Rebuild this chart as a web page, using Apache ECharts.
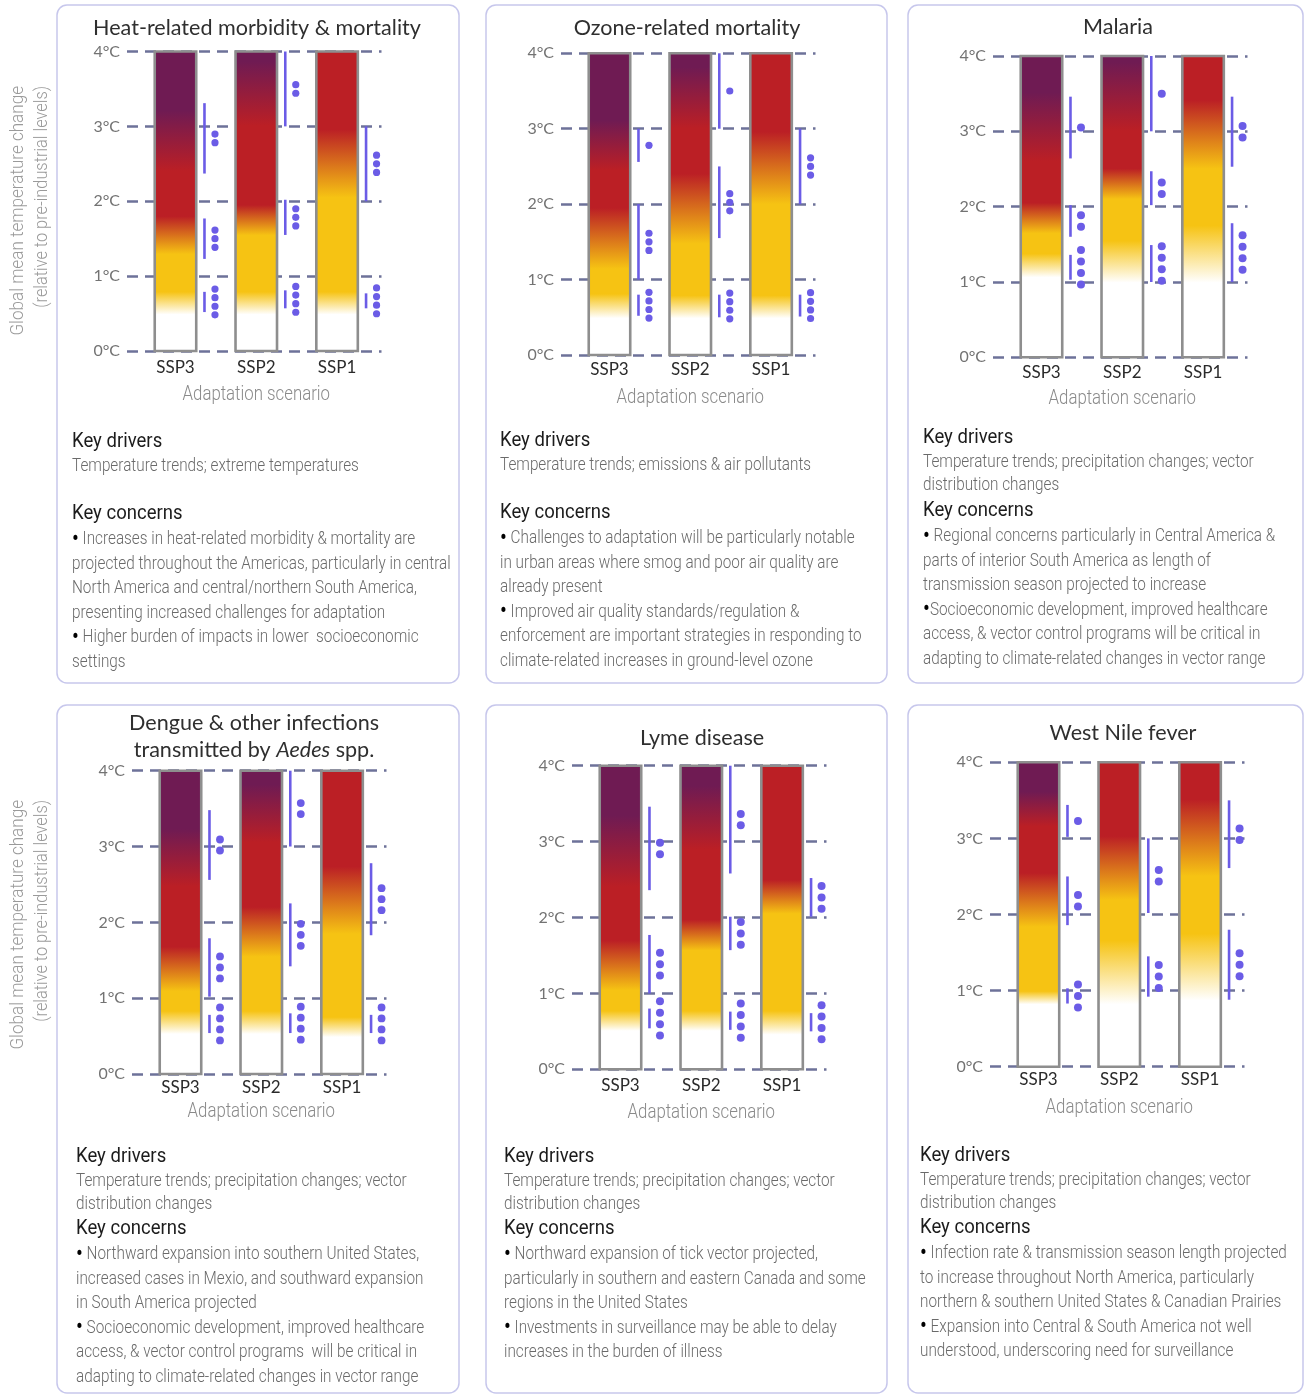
<!DOCTYPE html>
<html><head><meta charset="utf-8">
<script src="https://cdn.jsdelivr.net/npm/echarts@6/dist/echarts.min.js"></script>
<style>html,body{margin:0;padding:0;background:#fff}#c{width:1305px;height:1395px}</style>
</head><body><div id="c"></div>
<script>
// ---------------- data ----------------
const categories = ['SSP3', 'SSP2', 'SSP1'];
const tempTicks = ['0°C', '1°C', '2°C', '3°C', '4°C'];
const xAxisTitle = 'Adaptation scenario';
const yAxisTitle = ['Global mean temperature change', '(relative to pre-industrial levels)'];

// per bar: [white ends, yellow full, yellow ends, red full, red ends, purple full] (°C)
const heatRanges   = [[0.5, 0.8, 1.3, 1.8, 2.4, 3.2], [0.5, 0.8, 1.55, 1.95, 3.0, 3.85], [0.5, 0.8, 2.05, 2.95, null, null]];
const ozoneRanges  = [[0.5, 0.82, 1.15, 1.95, 2.45, 3.1], [0.5, 0.8, 1.48, 2.4, 3.0, 3.8], [0.5, 0.8, 2.0, 2.95, null, null]];
const malariaRanges= [[1.07, 1.38, 1.65, 2.05, 2.6, 3.5], [1.0, 1.55, 2.1, 2.5, 3.0, 3.9], [1.0, 1.75, 2.5, 3.4, null, null]];
const dengueRanges = [[0.54, 0.84, 1.1, 1.68, 2.47, 3.22], [0.54, 0.84, 1.55, 2.2, 3.05, 3.8], [0.5, 0.76, 1.85, 2.73, null, null]];
const lymeRanges   = [[0.52, 0.78, 1.05, 1.7, 2.4, 3.33], [0.52, 0.78, 1.57, 1.97, 2.89, 3.72], [0.47, 0.78, 2.05, 2.49, null, null]];
const nileRanges   = [[0.83, 1.0, 1.84, 2.54, 3.15, 3.6], [0.83, 1.66, 2.19, 3.02, null, null], [0.88, 1.75, 2.5, 3.5, null, null]];

// per bar: list of transitions [from °C, to °C, confidence dots]
const heatConfidence   = [[[0.52, 0.79, 4], [1.23, 1.77, 3], [2.37, 3.31, 2]], [[0.57, 0.81, 4], [1.55, 2.02, 3], [3.0, 4.0, 2]], [[0.57, 0.77, 4], [2.0, 3.0, 3]]];
const ozoneConfidence  = [[[0.52, 0.8, 4], [1.0, 2.0, 3], [2.56, 3.0, 1]], [[0.5, 0.8, 4], [1.55, 2.5, 3], [3.0, 4.0, 1]], [[0.51, 0.8, 4], [2.0, 3.0, 3]]];
const malariaConfidence= [[[1.03, 1.36, 4], [1.6, 2.02, 2], [2.64, 3.46, 1]], [[1.0, 1.49, 4], [2.02, 2.47, 2], [3.0, 4.0, 1]], [[1.0, 1.78, 4], [2.53, 3.46, 2]]];
const dengueConfidence = [[[0.54, 0.78, 4], [1.02, 1.79, 3], [2.56, 3.48, 2]], [[0.54, 0.8, 4], [1.42, 2.25, 3], [3.0, 4.0, 2]], [[0.54, 0.78, 4], [1.83, 2.78, 3]]];
const lymeConfidence   = [[[0.54, 0.8, 4], [1.0, 1.77, 3], [2.36, 3.46, 2]], [[0.52, 0.76, 4], [1.57, 2.01, 3], [2.58, 4.0, 2]], [[0.5, 0.74, 4], [2.01, 2.52, 3]]];
const nileConfidence   = [[[0.83, 1.03, 3], [1.86, 2.5, 2], [3.02, 3.44, 1]], [[0.92, 1.45, 3], [2.02, 3.0, 2]], [[0.88, 1.8, 3], [2.61, 3.5, 2]]];

const heatTitle = 'Heat-related morbidity & mortality';
const ozoneTitle = 'Ozone-related mortality';
const malariaTitle = 'Malaria';
const dengueTitle = '{n|Dengue & other infections}\n{n|transmitted by }{i|Aedes}{n| spp.}';
const lymeTitle = 'Lyme disease';
const nileTitle = 'West Nile fever';

const vectorDrivers = ['Temperature trends; precipitation changes; vector', 'distribution changes'];
const heatDrivers = ['Temperature trends; extreme temperatures'];
const ozoneDrivers = ['Temperature trends; emissions & air pollutants'];

const heatConcerns = ['• Increases in heat-related morbidity & mortality are', 'projected throughout the Americas, particularly in central', 'North America and central/northern South America,', 'presenting increased challenges for adaptation', '• Higher burden of impacts in lower  socioeconomic', 'settings'];
const ozoneConcerns = ['• Challenges to adaptation will be particularly notable', 'in urban areas where smog and poor air quality are', 'already present', '• Improved air quality standards/regulation &', 'enforcement are important strategies in responding to', 'climate-related increases in ground-level ozone'];
const malariaConcerns = ['• Regional concerns particularly in Central America &', 'parts of interior South America as length of', 'transmission season projected to increase', '•Socioeconomic development, improved healthcare', 'access, & vector control programs will be critical in', 'adapting to climate-related changes in vector range'];
const dengueConcerns = ['• Northward expansion into southern United States,', 'increased cases in Mexio, and southward expansion', 'in South America projected', '• Socioeconomic development, improved healthcare', 'access, & vector control programs  will be critical in', 'adapting to climate-related changes in vector range'];
const lymeConcerns = ['• Northward expansion of tick vector projected,', 'particularly in southern and eastern Canada and some', 'regions in the United States', '• Investments in surveillance may be able to delay', 'increases in the burden of illness'];
const nileConcerns = ['• Infection rate & transmission season length projected', 'to increase throughout North America, particularly', 'northern & southern United States & Canadian Prairies', '• Expansion into Central & South America not well', 'understood, underscoring need for surveillance'];

// ---------------- layout / style ----------------
const C_WHITE = '#ffffff', C_YEL = '#f6c313', C_RED = '#bb1f25', C_PUR = '#6f1b53';
const C_BLUE = '#6b5ce6', C_GRIDL = '#6d7299', C_BAR = '#8e8e8e';
const BW = 41.5, BR_DX = 29, DOT_DX = 39.5, GRID_W = 254.5;
const SANS = 'Lato', COND = 'Roboto';
const SX_BODY = 0.85, SX_HEAD = 0.95, SX_TITLE = 0.98;

const panels = [
  {title: heatTitle, ranges: heatRanges, conf: heatConfidence, drivers: heatDrivers, concerns: heatConcerns,
   box: [57, 5, 402, 678], grid: [127, 51.5, 299.5], tXY: [257, 28], tx: 72, kd: 442, kc: 514, dg: 8.6, dr: 3.6, cat: 17, ax: 44, dStep: 23},
  {title: ozoneTitle, ranges: ozoneRanges, conf: ozoneConfidence, drivers: ozoneDrivers, concerns: ozoneConcerns,
   box: [486, 5, 401, 678], grid: [561, 53.3, 301.7], tXY: [687, 28], tx: 500, kd: 441, kc: 513, dg: 8.6, dr: 3.6, cat: 15, ax: 43, dStep: 23},
  {title: malariaTitle, ranges: malariaRanges, conf: malariaConfidence, drivers: vectorDrivers, concerns: malariaConcerns,
   box: [908, 5, 395, 678], grid: [993, 56, 301.3], tXY: [1118, 27], tx: 923, kd: 438, kc: 511, dg: 11.5, dr: 4, cat: 15, ax: 41, dStep: 23},
  {title: dengueTitle, ranges: dengueRanges, conf: dengueConfidence, drivers: vectorDrivers, concerns: dengueConcerns,
   box: [57, 705, 402, 688], grid: [132, 770.7, 303.3], tXY: [254, 736.5], tx: 76, kd: 1157, kc: 1229, dg: 11, dr: 3.9, cat: 14, ax: 38, dStep: 23},
  {title: lymeTitle, ranges: lymeRanges, conf: lymeConfidence, drivers: vectorDrivers, concerns: lymeConcerns,
   box: [486, 705, 401, 688], grid: [572, 765.7, 303.6], tXY: [702, 738], tx: 504, kd: 1157, kc: 1229, dg: 11.4, dr: 4, cat: 16, ax: 43, dStep: 23},
  {title: nileTitle, ranges: nileRanges, conf: nileConfidence, drivers: vectorDrivers, concerns: nileConcerns,
   box: [908, 705, 395, 688], grid: [990, 762.3, 304.4], tXY: [1123, 733], tx: 920, kd: 1156, kc: 1228, dg: 11.5, dr: 4, cat: 13, ax: 41, dStep: 23}
];

function textEl(x, y, text, o) {
  const st = {text: text, fontFamily: o.ff, fontSize: o.fs, fontWeight: o.fw || 400, fill: o.c,
    textAlign: o.al || 'left', align: o.al || 'left', textVerticalAlign: 'middle', verticalAlign: 'middle'};
  if (o.rich) st.rich = o.rich;
  if (o.lh) st.lineHeight = o.lh;
  return {type: 'text', x: x, y: y, scaleX: o.sx || 1, rotation: o.rot || 0, z: 20, silent: true, style: st};
}

function bodyLine(x, y, line) {
  const base = {ff: COND, fs: 18, fw: 300, c: '#6a6a6a', sx: SX_BODY};
  if (line.startsWith('•')) {
    base.rich = {b: {fill: '#000', fontFamily: COND, fontSize: 24, fontWeight: 400}};
    line = '{b|•}' + line.slice(1);
  }
  return textEl(x, y, line, base);
}

function makeRender(p) {
  return function (params, api) {
    const i = params.dataIndex;
    const xv = api.value(0);
    const pb = api.coord([xv, 0]);
    const cx = pb[0], y0 = pb[1];
    const yTop = api.coord([xv, 4])[1];
    const H = y0 - yTop;
    const off = t => (y0 - api.coord([xv, t])[1]) / H;
    const r = p.ranges[i];
    const stops = [
      {offset: 0, color: C_WHITE}, {offset: off(r[0]), color: C_WHITE},
      {offset: off(r[1]), color: C_YEL}, {offset: off(r[2]), color: C_YEL},
      {offset: off(r[3]), color: C_RED}];
    if (r[4] != null) stops.push({offset: off(r[4]), color: C_RED}, {offset: off(r[5]), color: C_PUR});
    stops.push({offset: 1, color: stops[stops.length - 1].color});
    const ch = [{type: 'rect', shape: {x: cx - BW / 2, y: yTop, width: BW, height: H},
      style: {fill: {type: 'linear', x: 0, y: 1, x2: 0, y2: 0, colorStops: stops}, stroke: C_BAR, lineWidth: 2.6}}];
    p.conf[i].forEach(function (c) {
      const ya = api.coord([xv, c[0]])[1], yb = api.coord([xv, c[1]])[1];
      ch.push({type: 'line', shape: {x1: cx + BR_DX, y1: ya, x2: cx + BR_DX, y2: yb}, style: {stroke: C_BLUE, lineWidth: 2.6}});
      const ym = (ya + yb) / 2;
      for (let k = 0; k < c[2]; k++) {
        ch.push({type: 'circle', shape: {cx: cx + DOT_DX, cy: ym + (k - (c[2] - 1) / 2) * p.dg, r: p.dr}, style: {fill: C_BLUE}});
      }
    });
    ch.push({type: 'text', x: cx, y: y0 + p.cat, style: {text: categories[i], fontFamily: SANS, fontSize: 17, fill: '#2a2a2a',
      textAlign: 'center', align: 'center', textVerticalAlign: 'middle', verticalAlign: 'middle'}});
    if (i === 1) {
      ch.push({type: 'text', x: cx, y: y0 + p.ax, scaleX: 0.8, style: {text: xAxisTitle, fontFamily: COND, fontWeight: 300, fontSize: 21, fill: '#8a8a8a',
        textAlign: 'center', align: 'center', textVerticalAlign: 'middle', verticalAlign: 'middle'}});
    }
    return {type: 'group', children: ch};
  };
}

const grids = [], xAxes = [], yAxes = [], series = [], graphics = [];
panels.forEach(function (p, k) {
  grids.push({left: p.grid[0], top: p.grid[1], width: GRID_W, height: p.grid[2]});
  xAxes.push({gridIndex: k, type: 'value', min: -0.6, max: 2.55, show: false});
  yAxes.push({gridIndex: k, type: 'value', min: 0, max: 4, interval: 1,
    axisLine: {show: false}, axisTick: {show: false},
    axisLabel: {formatter: v => tempTicks[v], color: '#737373', fontFamily: SANS, fontSize: 16, margin: 7},
    splitLine: {show: true, lineStyle: {type: [11, 7], color: C_GRIDL, width: 2.6}}});
  series.push({type: 'custom', xAxisIndex: k, yAxisIndex: k, clip: false, silent: true, z: 5,
    data: categories.map((c, i) => [i, 0]), encode: {x: 0, y: 1}, renderItem: makeRender(p)});

  graphics.push({type: 'rect', z: 1, silent: true, shape: {x: p.box[0], y: p.box[1], width: p.box[2], height: p.box[3], r: 10},
    style: {fill: 'none', stroke: '#c7c7ec', lineWidth: 1.5}});
  graphics.push(textEl(p.tXY[0], p.tXY[1], p.title, {ff: SANS, fs: 22, c: '#2f2f2f', al: 'center', sx: SX_TITLE, lh: 27,
    rich: {n: {fontFamily: SANS, fontSize: 22, fill: '#2f2f2f', lineHeight: 27}, i: {fontFamily: SANS, fontSize: 22, fontStyle: 'italic', fill: '#2f2f2f', lineHeight: 27}}}));
  graphics.push(textEl(p.tx, p.kd, 'Key drivers', {ff: COND, fs: 19.5, c: '#1c1c1c', sx: SX_HEAD}));
  p.drivers.forEach(function (l, j) { graphics.push(bodyLine(p.tx, p.kd + 24.5 + j * p.dStep, l)); });
  graphics.push(textEl(p.tx, p.kc, 'Key concerns', {ff: COND, fs: 19.5, c: '#1c1c1c', sx: SX_HEAD}));
  p.concerns.forEach(function (l, j) { graphics.push(bodyLine(p.tx, p.kc + 25.5 + j * 24.6, l)); });
});
[86, 800].forEach(function (top) {
  graphics.push(textEl(18, top, yAxisTitle[0], {ff: COND, fs: 19, fw: 300, c: '#9a9a9a', al: 'right', rot: Math.PI / 2, sx: 0.9}));
  graphics.push(textEl(42, top, yAxisTitle[1], {ff: COND, fs: 19, fw: 300, c: '#9a9a9a', al: 'right', rot: Math.PI / 2, sx: 0.86}));
});

const chart = echarts.init(document.getElementById('c'), null, {renderer: 'canvas'});
chart.setOption({animation: false, backgroundColor: '#ffffff', grid: grids, xAxis: xAxes, yAxis: yAxes, series: series, graphic: {elements: graphics}});
</script></body></html>
